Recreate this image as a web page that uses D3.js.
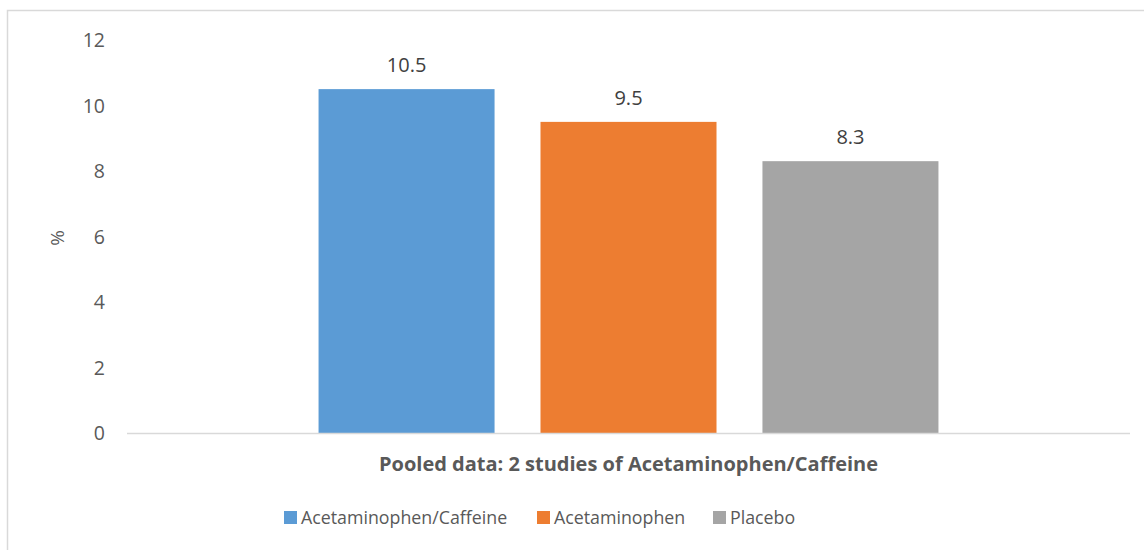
<!DOCTYPE html>
<html><head><meta charset="utf-8">
<script src="https://cdn.jsdelivr.net/npm/d3@7"></script>
<style>body{margin:0;background:#fff}svg{display:block}text{font-family:"Open Sans",sans-serif}</style>
</head><body><svg id="c" width="1144" height="550"></svg>
<script>
const categories = ["Pooled data: 2 studies of Acetaminophen/Caffeine"];
const series = ["Acetaminophen/Caffeine", "Acetaminophen", "Placebo"];
const values = [10.5, 9.5, 8.3];
const colors = ["#5B9BD5", "#ED7D31", "#A5A5A5"];
const yTicks = [0, 2, 4, 6, 8, 10, 12];

const svg = d3.select("#c");
svg.append("rect").attr("x", 7.5).attr("y", 10.5).attr("width", 1150).attr("height", 560)
  .attr("fill", "#fff").attr("stroke", "#D9D9D9").attr("stroke-width", 1.5);

const x0 = d3.scaleBand().domain(categories).range([127, 1130]).paddingInner(0).paddingOuter(0.309);
const x1 = d3.scaleBand().domain(series).range([0, x0.bandwidth()]).paddingInner(0.207).paddingOuter(0);
const y = d3.scaleLinear().domain([0, 12]).range([433, 40]);

const yAxis = svg.append("g").attr("transform", "translate(105,0)")
  .call(d3.axisLeft(y).tickValues(yTicks).tickSize(0).tickPadding(0));
yAxis.select(".domain").remove();
yAxis.selectAll("text").attr("fill", "#595959").style("font-size", "19.5px").style("font-family", "'Open Sans',sans-serif").attr("dy", "0.35em");

svg.append("text").attr("transform", "translate(57,238) rotate(-90)").attr("text-anchor", "middle").attr("dy", "0.35em")
  .attr("fill", "#595959").style("font-size", "19px").text("%");

const g = svg.append("g");
categories.forEach(cat => {
  series.forEach((s, i) => {
    const bx = x0(cat) + x1(s);
    g.append("rect").attr("x", bx).attr("y", y(values[i])).attr("width", x1.bandwidth())
      .attr("height", y(0) - y(values[i])).attr("fill", colors[i]);
    g.append("text").attr("x", bx + x1.bandwidth() / 2).attr("y", y(values[i]) - 17)
      .attr("text-anchor", "middle").attr("fill", "#404040").style("font-size", "20px").text(values[i]);
  });
  svg.append("text").attr("x", x0(cat) + x0.bandwidth() / 2).attr("y", 471).attr("text-anchor", "middle")
    .attr("fill", "#595959").style("font-size", "20px").style("font-weight", "bold").text(cat);
});

svg.append("line").attr("x1", 127).attr("x2", 1130).attr("y1", y(0) + 0.5).attr("y2", y(0) + 0.5)
  .attr("stroke", "#D9D9D9").attr("stroke-width", 1.5);

const legendX = [284, 537, 713];
series.forEach((s, i) => {
  svg.append("rect").attr("x", legendX[i]).attr("y", 511).attr("width", 13).attr("height", 13).attr("fill", colors[i]);
  svg.append("text").attr("x", legendX[i] + 17).attr("y", 524)
    .attr("fill", "#595959").style("font-size", "17.8px").text(s);
});
</script></body></html>
